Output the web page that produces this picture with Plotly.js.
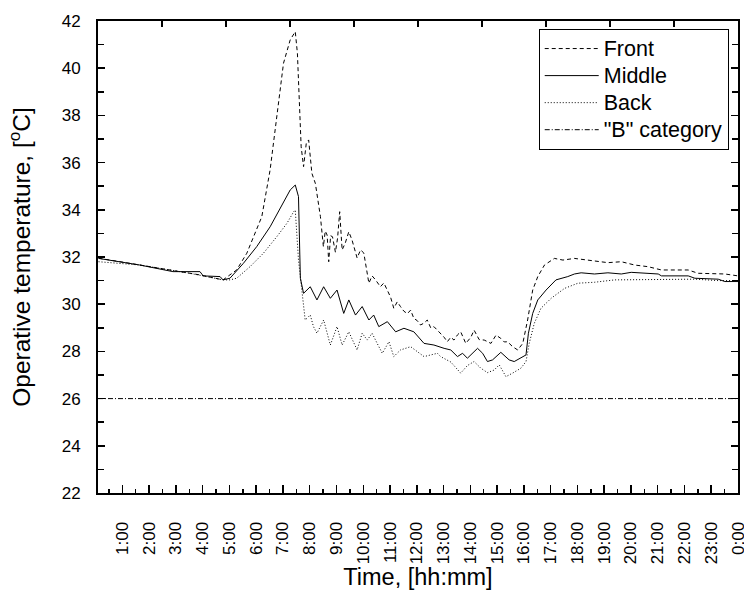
<!DOCTYPE html>
<html>
<head>
<meta charset="utf-8">
<script src="https://cdn.plot.ly/plotly-3.0.1.min.js"></script>
<style>html,body{margin:0;padding:0;background:#fff}#chart{width:744px;height:591px}</style>
</head>
<body>
<div id="chart"></div>
<script>
// Time in hours, temperatures in °C
var frontTime = [0.11,1.65,3.90,4.76,5.27,5.65,6.02,6.21,6.52,6.83,7.02,7.27,7.46,7.54,7.62,7.68,7.77,7.87,7.96,8.08,8.21,8.40,8.51,8.58,8.65,8.71,8.78,8.85,8.96,9.04,9.12,9.21,9.33,9.46,9.58,9.77,9.90,10.02,10.21,10.33,10.46,10.64,10.77,10.90,11.02,11.14,11.27,11.39,11.52,11.65,11.77,11.89,12.02,12.14,12.27,12.39,12.52,12.64,12.77,12.89,13.02,13.14,13.27,13.39,13.52,13.64,13.83,14.02,14.14,14.33,14.52,14.77,14.96,15.14,15.27,15.39,15.58,15.77,15.96,16.14,16.33,16.52,16.77,17.14,17.46,17.89,18.52,19.14,19.64,20.14,20.64,21.14,22.14,22.51,23.51,24.0];
var frontVal  = [31.95,31.66,31.24,31.03,31.45,32.16,33.14,33.71,35.69,38.51,40.21,41.2,41.55,40.63,38.51,36.67,35.83,36.81,36.96,35.55,35.12,33.71,32.44,33.1,32.93,31.8,32.9,32.86,32.2,32.8,33.92,32.3,32.6,33.07,32.72,31.96,32.3,32.17,30.89,31.2,31.03,30.74,30.9,30.6,30.3,29.83,30.1,29.9,29.7,29.6,29.75,29.4,29.3,29.12,29.2,29.33,29.0,29.05,28.9,28.77,28.6,28.41,28.6,28.48,28.7,28.83,28.34,28.6,28.9,28.5,28.48,28.34,28.69,28.55,28.4,28.41,28.2,28.06,28.34,29.33,30.6,31.17,31.66,31.94,31.87,31.94,31.84,31.76,31.8,31.66,31.59,31.45,31.45,31.31,31.28,31.2];

var middleTime = [0.11,1.65,2.89,3.90,4.02,4.65,4.76,5.02,5.52,6.02,6.52,6.90,7.27,7.46,7.58,7.65,7.77,8.02,8.27,8.52,8.77,9.02,9.27,9.46,9.71,9.96,10.21,10.39,10.58,10.90,11.21,11.52,11.89,12.27,12.64,13.02,13.27,13.52,13.71,13.89,14.27,14.46,14.64,14.83,15.14,15.45,15.64,16.08,16.17,16.33,16.52,16.83,17.20,17.64,17.89,18.14,18.64,19.14,19.64,20.01,21.02,21.14,22.14,22.39,23.26,23.51,24.0];
var middleVal  = [31.94,31.66,31.38,31.38,31.2,31.17,31.03,31.1,31.73,32.44,33.28,34.06,34.84,35.05,34.56,31.1,30.46,30.74,30.18,30.74,30.25,30.6,29.61,30.18,29.54,29.9,29.33,29.54,29.05,29.26,28.83,28.98,28.83,28.34,28.27,28.13,28.06,27.78,27.92,27.71,28.13,27.92,27.57,27.64,27.96,27.64,27.57,27.85,28.77,29.61,30.18,30.6,31.03,31.17,31.28,31.33,31.28,31.33,31.28,31.35,31.28,31.2,31.2,31.1,31.06,30.96,30.96];

var backTime = [0.11,1.65,3.52,4.76,5.02,5.27,5.77,6.27,6.77,7.15,7.40,7.46,7.58,7.83,8.02,8.14,8.27,8.52,8.77,9.02,9.21,9.46,9.77,9.96,10.15,10.33,10.52,10.71,10.96,11.14,11.39,11.77,12.27,12.77,12.89,13.27,13.64,13.89,14.14,14.39,14.64,14.89,15.08,15.33,15.58,15.89,16.08,16.20,16.39,16.64,17.02,17.52,18.02,18.64,19.39,21.64,22.39,23.26,24.0];
var backVal  = [31.8,31.66,31.31,31.03,31.03,31.1,31.59,32.16,32.86,33.43,33.92,33.99,31.87,29.33,29.54,29.05,28.77,29.33,28.27,29.05,28.27,28.83,28.06,28.77,28.48,28.77,28.34,27.92,28.41,27.78,28.06,28.2,27.78,27.92,27.78,27.55,27.08,27.4,27.57,27.29,27.1,27.21,27.43,26.93,27.08,27.29,27.57,28.34,29.19,29.83,30.25,30.67,30.89,30.93,31.03,31.03,31.06,31.0,31.0];

var bTime = [0.09,24.0];
var bVal  = [26,26];

var seriesNames = ["Front", "Middle", "Back", "\"B\" category"];

var hourTicks = [1,2,3,4,5,6,7,8,9,10,11,12,13,14,15,16,17,18,19,20,21,22,23,24];
var hourLabels = ["1:00","2:00","3:00","4:00","5:00","6:00","7:00","8:00","9:00","10:00","11:00","12:00","13:00","14:00","15:00","16:00","17:00","18:00","19:00","20:00","21:00","22:00","23:00","0:00"];

var X_START = 0.09, X_END = 24.0;
var FONT = "Arial, 'Liberation Sans', sans-serif";
function legName(s) { return '<span style="font-size:21.5px">' + s + '</span>'; }

var traces = [
  {x: frontTime, y: frontVal, name: legName(seriesNames[0]), mode: "lines", line: {color: "#000", width: 1, dash: "4px,3px"}},
  {x: middleTime, y: middleVal, name: legName(seriesNames[1]), mode: "lines", line: {color: "#000", width: 1}},
  {x: backTime, y: backVal, name: legName(seriesNames[2]), mode: "lines", line: {color: "#000", width: 1, dash: "1px,2px"}},
  {x: bTime, y: bVal, name: legName(seriesNames[3]), mode: "lines", xaxis: "x2", line: {color: "#000", width: 1, dash: "5px,2px,1px,2px"}}
];

var layout = {
  width: 744, height: 591,
  margin: {l: 98, r: 6, t: 21, b: 98},
  paper_bgcolor: "#fff", plot_bgcolor: "#fff",
  font: {family: FONT, color: "#000", size: 17},
  showlegend: true,
  legend: {
    x: 0.9855, y: 0.983, xanchor: "right", yanchor: "top",
    bgcolor: "#fff", bordercolor: "#000", borderwidth: 1,
    font: {family: FONT, size: 18.5, color: "#000"},
    itemwidth: 54, tracegroupgap: 0
  },
  xaxis: {
    range: [X_START, X_END],
    tickmode: "array", tickvals: hourTicks, ticktext: hourLabels,
    tickangle: -90,
    ticks: "inside", ticklen: 8, tickwidth: 1.5, tickcolor: "#000",
    minor: {ticks: "inside", ticklen: 4, tickwidth: 1.5, tickcolor: "#000", tickmode: "linear", tick0: 0.5, dtick: 1, showgrid: false},
    ticklabelstandoff: 20,
    ticklabeloverflow: "allow",
    showline: true, linewidth: 2, linecolor: "#000", mirror: true,
    showgrid: false, zeroline: false,
    tickfont: {family: FONT, size: 17},
    title: {text: "Time, [hh:mm]", font: {family: FONT, size: 23.5}, standoff: 5}
  },
  xaxis2: {
    overlaying: "x", side: "top", anchor: "y", matches: "x",
    range: [X_START, X_END],
    tickmode: "linear", tick0: X_START, dtick: (X_END - X_START) / 10,
    ticks: "inside", ticklen: 6, tickwidth: 1.5, tickcolor: "#000",
    showticklabels: false, showgrid: false, zeroline: false, showline: false
  },
  yaxis: {
    range: [22, 42], tickmode: "linear", tick0: 22, dtick: 2,
    ticks: "inside", ticklen: 7, tickwidth: 1.5, tickcolor: "#000",
    minor: {ticks: "inside", ticklen: 6, tickwidth: 1.5, tickcolor: "#000", tickmode: "linear", tick0: 23, dtick: 2, showgrid: false},
    ticklabelstandoff: 12,
    showline: true, linewidth: 2, linecolor: "#000", mirror: "ticks",
    showgrid: false, zeroline: false,
    tickfont: {family: FONT, size: 17},
    title: {text: "Operative temperature, [<sup>o</sup>C]", font: {family: FONT, size: 24.5}, standoff: 24}
  }
};

Plotly.newPlot("chart", traces, layout, {displayModeBar: false, staticPlot: true});
</script>
</body>
</html>
